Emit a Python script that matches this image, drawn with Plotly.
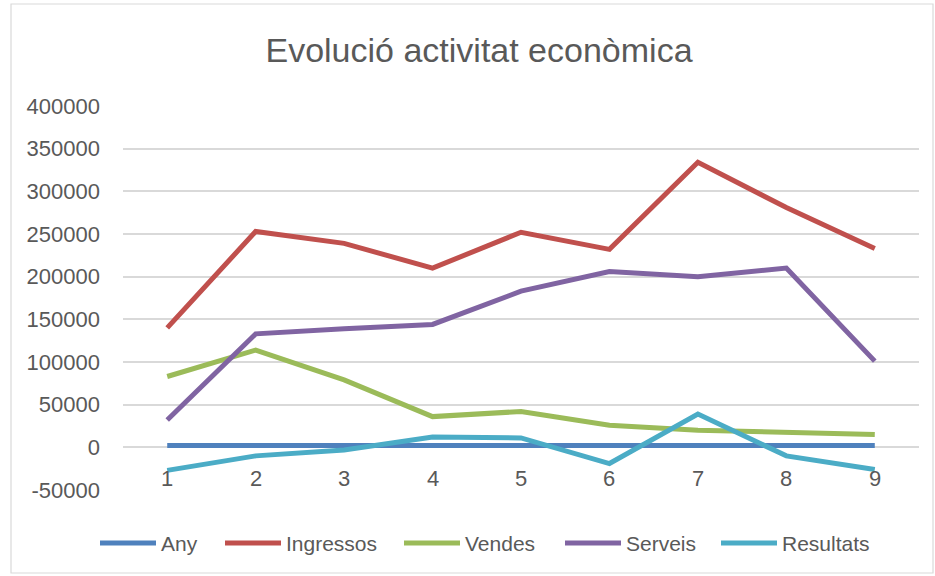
import plotly.graph_objects as go

categories = [1, 2, 3, 4, 5, 6, 7, 8, 9]
any_vals = [2010, 2011, 2012, 2013, 2014, 2015, 2016, 2017, 2018]
ingressos = [140000, 253000, 239000, 210000, 252000, 232000, 334000, 281000, 233000]
vendes = [83000, 114000, 79000, 36000, 42000, 26000, 20000, 17000, 15000]
serveis = [32000, 133000, 139000, 144000, 183000, 206000, 200000, 210000, 101000]
resultats = [-27000, -10000, -3000, 12000, 11000, -19000, 39000, -10000, -26000]
y_ticks = [-50000, 0, 50000, 100000, 150000, 200000, 250000, 300000, 350000, 400000]
series_names = ["Any", "Ingressos", "Vendes", "Serveis", "Resultats"]
series_colors = ["#4F81BD", "#C0504D", "#9BBB59", "#8064A2", "#4BACC6"]
series_values = [any_vals, ingressos, vendes, serveis, resultats]

W, H = 935, 576
L, R, T, B = 123, 16, 106, 86
PW, PH = W - L - R, H - T - B


def px_x(p):
    return (p - L) / PW


def px_y(p):
    return (H - B - p) / PH


fig = go.Figure()
for name, vals, color in zip(series_names, series_values, series_colors):
    fig.add_trace(go.Scatter(
        x=categories, y=vals, name=name, mode="lines",
        line=dict(color=color, width=5), showlegend=False,
    ))

font_fam = "Liberation Sans, Arial, sans-serif"
tick_font = dict(family=font_fam, size=22, color="#595959")

for c in categories:
    fig.add_annotation(x=c, y=0, xref="x", yref="y", text=str(c), showarrow=False,
                       yshift=-31, font=tick_font)

# custom legend (Excel style: long line swatch)
legend_start_px = [100, 225, 404, 565, 721]
legend_y = px_y(543)
for name, color, sx in zip(series_names, series_colors, legend_start_px):
    fig.add_shape(type="line", xref="paper", yref="paper",
                  x0=px_x(sx), x1=px_x(sx + 56), y0=legend_y, y1=legend_y,
                  line=dict(color=color, width=5))
    fig.add_annotation(x=px_x(sx + 59), y=legend_y, xref="paper", yref="paper",
                       text=name, showarrow=False, xanchor="left", yanchor="middle",
                       font=dict(family=font_fam, size=21, color="#595959"))

fig.add_shape(type="rect", xref="paper", yref="paper",
              x0=px_x(11), x1=px_x(933), y0=px_y(573), y1=px_y(4),
              line=dict(color="#D9D9D9", width=1.2), fillcolor="rgba(0,0,0,0)", layer="below")

fig.update_layout(
    width=W, height=H,
    margin=dict(l=L, r=R, t=T, b=B, autoexpand=False),
    paper_bgcolor="white", plot_bgcolor="white",
    title=dict(text="Evolució activitat econòmica", x=479 / W, y=1 - 50 / H,
               xanchor="center", yanchor="middle",
               font=dict(family=font_fam, size=34, color="#595959")),
    xaxis=dict(range=[0.5, 9.5], showgrid=False, zeroline=False, showticklabels=False,
               showline=False, ticks="", automargin=False),
    yaxis=dict(range=[-50000, 400000], tickvals=y_ticks, ticktext=[str(v) for v in y_ticks],
               showgrid=True, gridcolor="#D9D9D9", gridwidth=1.5, zeroline=False,
               tickfont=tick_font, ticklabelstandoff=22, showline=False, ticks="",
               automargin=False),
    showlegend=False,
)

fig.write_html("out.html", config={"displayModeBar": False},
               post_script="document.body.style.margin='0';document.body.style.overflow='hidden';")
